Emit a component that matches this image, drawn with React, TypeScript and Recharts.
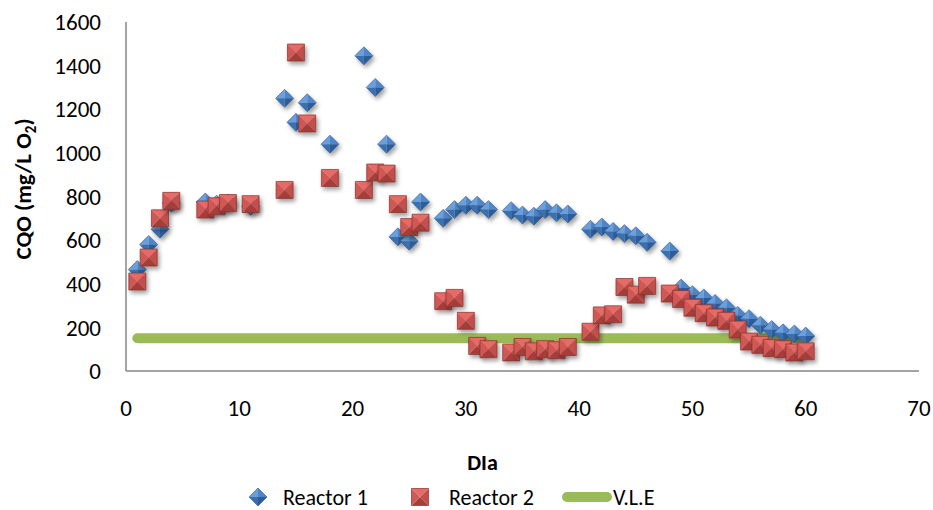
import { ComposedChart, Scatter, Line, XAxis, YAxis, Legend, Label } from "recharts"

// sampling days (same for both reactors)
const days = [
  1, 2, 3, 4, 7, 8, 9, 11, 14, 15, 16, 18, 21, 22, 23, 24, 25, 26, 28, 29, 30, 31, 32, 34, 35, 36,
  37, 38, 39, 41, 42, 43, 44, 45, 46, 48, 49, 50, 51, 52, 53, 54, 55, 56, 57, 58, 59, 60,
]

// CQO, mg/L O2
const reactor1 = [
  465, 580, 650, 770, 775, 765, 770, 755, 1250, 1140, 1230, 1040, 1445, 1300, 1040, 615, 595, 775,
  700, 740, 760, 760, 740, 735, 715, 710, 740, 725, 720, 650, 660, 640, 630, 620, 590, 550, 380,
  350, 335, 310, 290, 255, 240, 210, 190, 175, 170, 160,
]

const reactor2 = [
  410, 520, 700, 780, 740, 755, 770, 765, 830, 1460, 1135, 885, 830, 910, 905, 765, 660, 680, 320,
  335, 230, 115, 100, 85, 110, 90, 100, 95, 110, 180, 255, 260, 385, 350, 390, 355, 330, 290, 265,
  245, 230, 190, 135, 120, 105, 100, 85, 90,
]

// V.L.E limit, drawn from the first to the last sampling day
const vleDays = [1, 60]
const vleValues = [150, 150]

const xTicks = [0, 10, 20, 30, 40, 50, 60, 70]
const yTicks = [0, 200, 400, 600, 800, 1000, 1200, 1400, 1600]

const r1Data = days.map((day, i) => ({ day, cqo: reactor1[i] }))
const r2Data = days.map((day, i) => ({ day, cqo: reactor2[i] }))
const vleData = vleDays.map((day, i) => ({ day, cqo: vleValues[i] }))

const FONT = "Carlito, Calibri, Lato, sans-serif"
const AXIS = "#868686"
const GREEN = "#9BBB59"

function Diamond({ cx, cy, r = 9, shadow = true }: { cx: number; cy: number; r?: number; shadow?: boolean }) {
  const c = `${cx},${cy}`
  const t = `${cx},${cy - r}`
  const rt = `${cx + r},${cy}`
  const b = `${cx},${cy + r}`
  const l = `${cx - r},${cy}`
  return (
    <g filter={shadow ? "url(#mk-shadow)" : undefined}>
      <polygon points={`${l} ${t} ${c}`} fill="#6a9fdc" />
      <polygon points={`${t} ${rt} ${c}`} fill="#4f86c9" />
      <polygon points={`${rt} ${b} ${c}`} fill="#2c5d9a" />
      <polygon points={`${b} ${l} ${c}`} fill="#3a6fb0" />
      <polygon points={`${t} ${rt} ${b} ${l}`} fill="none" stroke="#2a5589" strokeWidth={0.6} />
    </g>
  )
}

function Pyramid({ cx, cy, s = 8.5, shadow = true }: { cx: number; cy: number; s?: number; shadow?: boolean }) {
  const c = `${cx},${cy}`
  const tl = `${cx - s},${cy - s}`
  const tr = `${cx + s},${cy - s}`
  const br = `${cx + s},${cy + s}`
  const bl = `${cx - s},${cy + s}`
  return (
    <g filter={shadow ? "url(#mk-shadow)" : undefined}>
      <polygon points={`${tl} ${tr} ${c}`} fill="#e66a66" />
      <polygon points={`${tr} ${br} ${c}`} fill="#c24f4b" />
      <polygon points={`${br} ${bl} ${c}`} fill="#a53e3a" />
      <polygon points={`${bl} ${tl} ${c}`} fill="#cf5955" />
      <polygon points={`${tl} ${tr} ${br} ${bl}`} fill="none" stroke="#8a2f2c" strokeWidth={0.7} />
    </g>
  )
}

function LegendRow() {
  const text = { fontFamily: FONT, fontSize: 22, fill: "#000" }
  return (
    <svg width={933} height={30} style={{ display: "block" }}>
      <Diamond cx={258} cy={17} shadow={false} />
      <text x={283} y={25} {...text}>Reactor 1</text>
      <Pyramid cx={420} cy={17} shadow={false} />
      <text x={449} y={25} {...text}>Reactor 2</text>
      <line x1={567} y1={17} x2={607} y2={17} stroke={GREEN} strokeWidth={10} strokeLinecap="round" />
      <text x={613} y={25} {...text}>V.L.E</text>
    </svg>
  )
}

function YTitle() {
  return (
    <text
      x={31}
      y={189}
      transform="rotate(-90, 31, 189)"
      textAnchor="middle"
      fontFamily={FONT}
      fontSize={23}
      fontWeight="bold"
      fill="#000"
    >
      CQO (mg/L O<tspan dy={5} fontSize={15}>2</tspan>
      <tspan dy={-5}>)</tspan>
    </text>
  )
}

export default function App() {
  return (
    <div style={{ position: "absolute", left: 0, top: 0 }}>
      <ComposedChart width={933} height={510} margin={{ top: 22, right: 14, bottom: 0, left: 0 }}>
        <defs>
          <filter id="mk-shadow" x="-60%" y="-60%" width="220%" height="220%">
            <feDropShadow dx={2} dy={3} stdDeviation={2.2} floodColor="#000" floodOpacity={0.38} />
          </filter>
        </defs>
        <XAxis
          type="number"
          dataKey="day"
          domain={[0, 70]}
          ticks={xTicks}
          tickLine={false}
          axisLine={{ stroke: AXIS, strokeWidth: 1.5 }}
          tick={{ fill: "#000", fontFamily: FONT, fontSize: 23 }}
          tickMargin={23}
          height={139}
        >
          <Label
            value="DIa"
            position="insideTop"
            offset={83}
            dx={-40}
            style={{ fontFamily: FONT, fontSize: 22, fontWeight: "bold", fill: "#000" }}
          />
        </XAxis>
        <YAxis
          type="number"
          dataKey="cqo"
          domain={[0, 1600]}
          ticks={yTicks}
          tickLine={false}
          axisLine={{ stroke: AXIS, strokeWidth: 1.5 }}
          tick={{ fill: "#000", fontFamily: FONT, fontSize: 23 }}
          tickMargin={19}
          width={126}
        >
          <Label content={() => <YTitle />} />
        </YAxis>
        <Scatter
          name="Reactor 1"
          data={r1Data}
          dataKey="cqo"
          isAnimationActive={false}
          shape={(p: any) => <Diamond cx={p.cx} cy={p.cy} />}
        />
        <Scatter
          name="Reactor 2"
          data={r2Data}
          dataKey="cqo"
          isAnimationActive={false}
          shape={(p: any) => <Pyramid cx={p.cx} cy={p.cy} />}
        />
        <Line
          name="V.L.E"
          data={vleData}
          dataKey="cqo"
          stroke={GREEN}
          strokeWidth={10}
          strokeLinecap="round"
          dot={false}
          activeDot={false}
          isAnimationActive={false}
        />
        <Legend
          verticalAlign="middle"
          layout="horizontal"
          content={() => <LegendRow />}
          wrapperStyle={{ position: "absolute", top: 480, left: 0, width: 933 }}
        />
      </ComposedChart>
    </div>
  )
}
